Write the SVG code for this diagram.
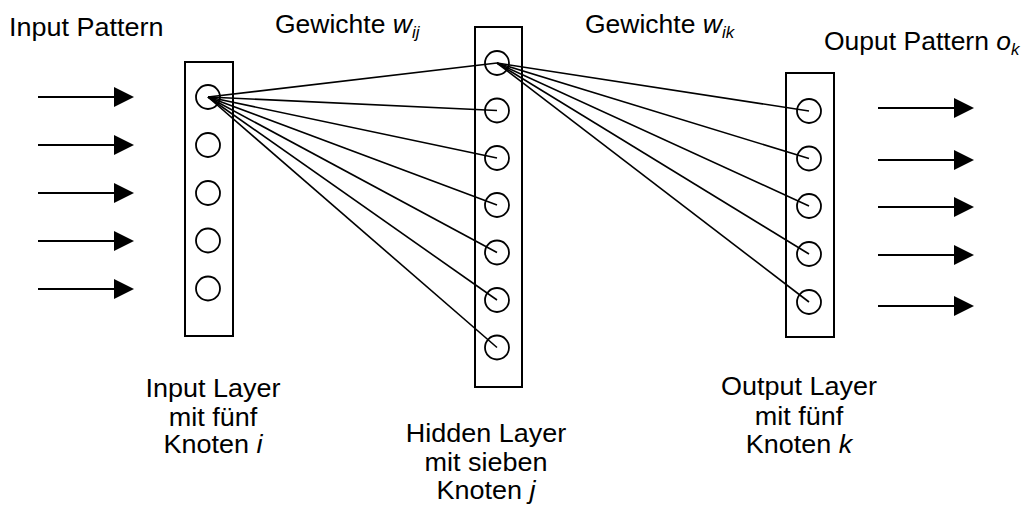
<svg xmlns="http://www.w3.org/2000/svg" width="1024" height="506" viewBox="0 0 1024 506">
  <style>
    .layer { fill: none; stroke: #000; stroke-width: 2; }
    .node { fill: none; stroke: #000; stroke-width: 1.8; }
    .edge { stroke: #000; stroke-width: 1.6; fill: none; }
    .flow { stroke: #000; stroke-width: 2; fill: none; marker-end: url(#head); }
    .lbl { font-family: "Liberation Sans", Arial, sans-serif; font-size: 25px; fill: #000; }
    .mid { text-anchor: middle; }
    .it { font-style: italic; }
    .sub { font-style: italic; font-size: 16px; }
  </style>
  <defs>
    <marker id="head" viewBox="0 0 20 20" markerWidth="20" markerHeight="20" markerUnits="userSpaceOnUse" refX="0" refY="10" orient="auto">
      <path d="M0,0 L20,10 L0,20 z" fill="#000"/>
    </marker>
  </defs>
  <rect width="1024" height="506" fill="#fff"/>

  <!-- input pattern arrows -->
  <g id="input-arrows">
    <line class="flow" x1="38" y1="97" x2="114" y2="97"/>
    <line class="flow" x1="38" y1="145" x2="114" y2="145"/>
    <line class="flow" x1="38" y1="193" x2="114" y2="193"/>
    <line class="flow" x1="38" y1="241" x2="114" y2="241"/>
    <line class="flow" x1="38" y1="289" x2="114" y2="289"/>
  </g>

  <!-- weights: input node 1 to all hidden nodes, hidden node 1 to all output nodes -->
  <g id="connectors">
    <line class="edge" x1="208" y1="97" x2="497" y2="63"/>
    <line class="edge" x1="208" y1="97" x2="497" y2="110.5"/>
    <line class="edge" x1="208" y1="97" x2="497" y2="158"/>
    <line class="edge" x1="208" y1="97" x2="497" y2="205"/>
    <line class="edge" x1="208" y1="97" x2="497" y2="252.5"/>
    <line class="edge" x1="208" y1="97" x2="497" y2="300"/>
    <line class="edge" x1="208" y1="97" x2="497" y2="347.5"/>
    <line class="edge" x1="497" y1="63" x2="809" y2="111"/>
    <line class="edge" x1="497" y1="63" x2="809" y2="158.5"/>
    <line class="edge" x1="497" y1="63" x2="809" y2="206"/>
    <line class="edge" x1="497" y1="63" x2="809" y2="254"/>
    <line class="edge" x1="497" y1="63" x2="809" y2="302"/>
  </g>

  <!-- input layer -->
  <g id="input-layer">
    <rect class="layer" x="185" y="62" width="48" height="274"/>
    <circle class="node" cx="208" cy="97" r="12"/>
    <circle class="node" cx="208" cy="145" r="12"/>
    <circle class="node" cx="208" cy="193" r="12"/>
    <circle class="node" cx="208" cy="240.5" r="12"/>
    <circle class="node" cx="208" cy="288.5" r="12"/>
  </g>

  <!-- hidden layer -->
  <g id="hidden-layer">
    <rect class="layer" x="475" y="27" width="47" height="360"/>
    <circle class="node" cx="497" cy="63" r="12"/>
    <circle class="node" cx="497" cy="110.5" r="12"/>
    <circle class="node" cx="497" cy="158" r="12"/>
    <circle class="node" cx="497" cy="205" r="12"/>
    <circle class="node" cx="497" cy="252.5" r="12"/>
    <circle class="node" cx="497" cy="300" r="12"/>
    <circle class="node" cx="497" cy="347.5" r="12"/>
  </g>

  <!-- output layer -->
  <g id="output-layer">
    <rect class="layer" x="786" y="73" width="48" height="264"/>
    <circle class="node" cx="809" cy="111" r="12"/>
    <circle class="node" cx="809" cy="158.5" r="12"/>
    <circle class="node" cx="809" cy="206" r="12"/>
    <circle class="node" cx="809" cy="254" r="12"/>
    <circle class="node" cx="809" cy="302" r="12"/>
  </g>

  <!-- output pattern arrows -->
  <g id="output-arrows">
    <line class="flow" x1="878" y1="108" x2="954" y2="108"/>
    <line class="flow" x1="878" y1="160" x2="954" y2="160"/>
    <line class="flow" x1="878" y1="207" x2="954" y2="207"/>
    <line class="flow" x1="878" y1="255" x2="954" y2="255"/>
    <line class="flow" x1="878" y1="306" x2="954" y2="306"/>
  </g>

  <!-- labels (slightly widened lettering) -->
  <g id="labels">
    <text class="lbl" transform="translate(9,36) scale(1.08,1)">Input Pattern</text>
    <text class="lbl" transform="translate(275,33) scale(1.06,1)">Gewichte <tspan class="it">w</tspan><tspan class="sub" dy="5">ij</tspan></text>
    <text class="lbl" transform="translate(585,33) scale(1.06,1)">Gewichte <tspan class="it">w</tspan><tspan class="sub" dy="5">ik</tspan></text>
    <text class="lbl" transform="translate(824,50) scale(1.06,1)">Ouput Pattern <tspan class="it">o</tspan><tspan class="sub" dy="5">k</tspan></text>

    <g transform="translate(213,0) scale(1.08,1)">
      <text class="lbl mid" y="397">Input Layer</text>
      <text class="lbl mid" y="426">mit fünf</text>
      <text class="lbl mid" y="453">Knoten <tspan class="it">i</tspan></text>
    </g>

    <g transform="translate(486,0) scale(1.08,1)">
      <text class="lbl mid" y="442">Hidden Layer</text>
      <text class="lbl mid" y="471">mit sieben</text>
      <text class="lbl mid" y="499">Knoten <tspan class="it">j</tspan></text>
    </g>

    <g transform="translate(799,0) scale(1.08,1)">
      <text class="lbl mid" y="395">Output Layer</text>
      <text class="lbl mid" y="425">mit fünf</text>
      <text class="lbl mid" y="453">Knoten <tspan class="it">k</tspan></text>
    </g>
  </g>
</svg>
